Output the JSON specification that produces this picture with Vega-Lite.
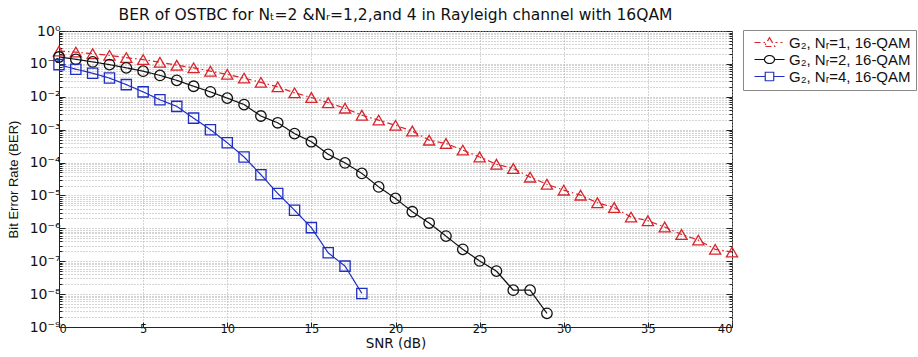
{
  "$schema": "https://vega.github.io/schema/vega-lite/v6.json",
  "autosize": "none",
  "width": 673,
  "height": 296,
  "padding": {"left": 59, "top": 31, "right": 186, "bottom": 30},
  "background": "white",
  "title": {"text": "BER of OSTBC for Nₜ=2 &Nᵣ=1,2,and 4 in Rayleigh channel with 16QAM", "font": "DejaVu Sans", "fontSize": 15.5, "fontWeight": "normal", "color": "#111", "anchor": "middle", "offset": 1},
  "config": {
    "view": {"stroke": "#222", "strokeWidth": 1},
    "axis": {"labelFont": "DejaVu Sans", "labelFontSize": 12, "labelColor": "#111", "titleFont": "DejaVu Sans", "titleFontSize": 14, "titleFontWeight": "normal", "titleColor": "#111", "domainColor": "#222", "tickColor": "#222", "gridColor": "#aaa", "gridDash": [1, 2], "gridOpacity": 1}
  },
  "data": {"values": [
    {"snr":0,"ber":0.245,"series":"G₂, Nᵣ=1, 16-QAM"},{"snr":1,"ber":0.229,"series":"G₂, Nᵣ=1, 16-QAM"},{"snr":2,"ber":0.204,"series":"G₂, Nᵣ=1, 16-QAM"},{"snr":3,"ber":0.182,"series":"G₂, Nᵣ=1, 16-QAM"},{"snr":4,"ber":0.155,"series":"G₂, Nᵣ=1, 16-QAM"},{"snr":5,"ber":0.135,"series":"G₂, Nᵣ=1, 16-QAM"},{"snr":6,"ber":0.112,"series":"G₂, Nᵣ=1, 16-QAM"},{"snr":7,"ber":0.091,"series":"G₂, Nᵣ=1, 16-QAM"},{"snr":8,"ber":0.076,"series":"G₂, Nᵣ=1, 16-QAM"},{"snr":9,"ber":0.060,"series":"G₂, Nᵣ=1, 16-QAM"},{"snr":10,"ber":0.048,"series":"G₂, Nᵣ=1, 16-QAM"},{"snr":11,"ber":0.037,"series":"G₂, Nᵣ=1, 16-QAM"},{"snr":12,"ber":0.0275,"series":"G₂, Nᵣ=1, 16-QAM"},{"snr":13,"ber":0.020,"series":"G₂, Nᵣ=1, 16-QAM"},{"snr":14,"ber":0.0132,"series":"G₂, Nᵣ=1, 16-QAM"},{"snr":15,"ber":0.0095,"series":"G₂, Nᵣ=1, 16-QAM"},{"snr":16,"ber":0.0066,"series":"G₂, Nᵣ=1, 16-QAM"},{"snr":17,"ber":0.0045,"series":"G₂, Nᵣ=1, 16-QAM"},{"snr":18,"ber":0.00275,"series":"G₂, Nᵣ=1, 16-QAM"},{"snr":19,"ber":0.00195,"series":"G₂, Nᵣ=1, 16-QAM"},{"snr":20,"ber":0.00135,"series":"G₂, Nᵣ=1, 16-QAM"},{"snr":21,"ber":0.00091,"series":"G₂, Nᵣ=1, 16-QAM"},{"snr":22,"ber":0.00048,"series":"G₂, Nᵣ=1, 16-QAM"},{"snr":23,"ber":0.00038,"series":"G₂, Nᵣ=1, 16-QAM"},{"snr":24,"ber":0.00024,"series":"G₂, Nᵣ=1, 16-QAM"},{"snr":25,"ber":0.000148,"series":"G₂, Nᵣ=1, 16-QAM"},{"snr":26,"ber":0.000089,"series":"G₂, Nᵣ=1, 16-QAM"},{"snr":27,"ber":0.000066,"series":"G₂, Nᵣ=1, 16-QAM"},{"snr":28,"ber":0.000036,"series":"G₂, Nᵣ=1, 16-QAM"},{"snr":29,"ber":0.0000219,"series":"G₂, Nᵣ=1, 16-QAM"},{"snr":30,"ber":0.0000145,"series":"G₂, Nᵣ=1, 16-QAM"},{"snr":31,"ber":0.0000102,"series":"G₂, Nᵣ=1, 16-QAM"},{"snr":32,"ber":0.000006,"series":"G₂, Nᵣ=1, 16-QAM"},{"snr":33,"ber":0.0000043,"series":"G₂, Nᵣ=1, 16-QAM"},{"snr":34,"ber":0.0000022,"series":"G₂, Nᵣ=1, 16-QAM"},{"snr":35,"ber":0.0000017,"series":"G₂, Nᵣ=1, 16-QAM"},{"snr":36,"ber":0.0000011,"series":"G₂, Nᵣ=1, 16-QAM"},{"snr":37,"ber":6.5e-7,"series":"G₂, Nᵣ=1, 16-QAM"},{"snr":38,"ber":4.4e-7,"series":"G₂, Nᵣ=1, 16-QAM"},{"snr":39,"ber":2.3e-7,"series":"G₂, Nᵣ=1, 16-QAM"},{"snr":40,"ber":1.9e-7,"series":"G₂, Nᵣ=1, 16-QAM"},
    {"snr":0,"ber":0.162,"series":"G₂, Nᵣ=2, 16-QAM"},{"snr":1,"ber":0.138,"series":"G₂, Nᵣ=2, 16-QAM"},{"snr":2,"ber":0.115,"series":"G₂, Nᵣ=2, 16-QAM"},{"snr":3,"ber":0.095,"series":"G₂, Nᵣ=2, 16-QAM"},{"snr":4,"ber":0.076,"series":"G₂, Nᵣ=2, 16-QAM"},{"snr":5,"ber":0.060,"series":"G₂, Nᵣ=2, 16-QAM"},{"snr":6,"ber":0.0447,"series":"G₂, Nᵣ=2, 16-QAM"},{"snr":7,"ber":0.0316,"series":"G₂, Nᵣ=2, 16-QAM"},{"snr":8,"ber":0.0209,"series":"G₂, Nᵣ=2, 16-QAM"},{"snr":9,"ber":0.0141,"series":"G₂, Nᵣ=2, 16-QAM"},{"snr":10,"ber":0.0091,"series":"G₂, Nᵣ=2, 16-QAM"},{"snr":11,"ber":0.0058,"series":"G₂, Nᵣ=2, 16-QAM"},{"snr":12,"ber":0.0026,"series":"G₂, Nᵣ=2, 16-QAM"},{"snr":13,"ber":0.00162,"series":"G₂, Nᵣ=2, 16-QAM"},{"snr":14,"ber":0.00076,"series":"G₂, Nᵣ=2, 16-QAM"},{"snr":15,"ber":0.00043,"series":"G₂, Nᵣ=2, 16-QAM"},{"snr":16,"ber":0.000178,"series":"G₂, Nᵣ=2, 16-QAM"},{"snr":17,"ber":0.0000977,"series":"G₂, Nᵣ=2, 16-QAM"},{"snr":18,"ber":0.0000468,"series":"G₂, Nᵣ=2, 16-QAM"},{"snr":19,"ber":0.0000182,"series":"G₂, Nᵣ=2, 16-QAM"},{"snr":20,"ber":0.0000081,"series":"G₂, Nᵣ=2, 16-QAM"},{"snr":21,"ber":0.0000032,"series":"G₂, Nᵣ=2, 16-QAM"},{"snr":22,"ber":0.00000145,"series":"G₂, Nᵣ=2, 16-QAM"},{"snr":23,"ber":5.8e-7,"series":"G₂, Nᵣ=2, 16-QAM"},{"snr":24,"ber":2.3e-7,"series":"G₂, Nᵣ=2, 16-QAM"},{"snr":25,"ber":1.02e-7,"series":"G₂, Nᵣ=2, 16-QAM"},{"snr":26,"ber":5.0e-8,"series":"G₂, Nᵣ=2, 16-QAM"},{"snr":27,"ber":1.32e-8,"series":"G₂, Nᵣ=2, 16-QAM"},{"snr":28,"ber":1.32e-8,"series":"G₂, Nᵣ=2, 16-QAM"},{"snr":29,"ber":2.6e-9,"series":"G₂, Nᵣ=2, 16-QAM"},
    {"snr":0,"ber":0.095,"series":"G₂, Nᵣ=4, 16-QAM"},{"snr":1,"ber":0.069,"series":"G₂, Nᵣ=4, 16-QAM"},{"snr":2,"ber":0.052,"series":"G₂, Nᵣ=4, 16-QAM"},{"snr":3,"ber":0.037,"series":"G₂, Nᵣ=4, 16-QAM"},{"snr":4,"ber":0.0234,"series":"G₂, Nᵣ=4, 16-QAM"},{"snr":5,"ber":0.0141,"series":"G₂, Nᵣ=4, 16-QAM"},{"snr":6,"ber":0.0081,"series":"G₂, Nᵣ=4, 16-QAM"},{"snr":7,"ber":0.0051,"series":"G₂, Nᵣ=4, 16-QAM"},{"snr":8,"ber":0.00224,"series":"G₂, Nᵣ=4, 16-QAM"},{"snr":9,"ber":0.001,"series":"G₂, Nᵣ=4, 16-QAM"},{"snr":10,"ber":0.0004,"series":"G₂, Nᵣ=4, 16-QAM"},{"snr":11,"ber":0.000148,"series":"G₂, Nᵣ=4, 16-QAM"},{"snr":12,"ber":0.0000427,"series":"G₂, Nᵣ=4, 16-QAM"},{"snr":13,"ber":0.0000115,"series":"G₂, Nᵣ=4, 16-QAM"},{"snr":14,"ber":0.00000355,"series":"G₂, Nᵣ=4, 16-QAM"},{"snr":15,"ber":0.00000105,"series":"G₂, Nᵣ=4, 16-QAM"},{"snr":16,"ber":1.8e-7,"series":"G₂, Nᵣ=4, 16-QAM"},{"snr":17,"ber":7.1e-8,"series":"G₂, Nᵣ=4, 16-QAM"},{"snr":18,"ber":1.05e-8,"series":"G₂, Nᵣ=4, 16-QAM"}
  ]},
  "encoding": {
    "x": {"field": "snr", "type": "quantitative", "scale": {"domain": [0, 40], "nice": false},
      "axis": {"title": "SNR (dB)", "values": [0,5,10,15,20,25,30,35,40], "tickSize": -5, "labelPadding": 1, "titlePadding": 2, "titleFontSize": 13.5, "labelFontSize": 11.5, "grid": true, "domain": true}},
    "y": {"field": "ber", "type": "quantitative", "scale": {"type": "log", "domain": [1e-9, 1], "nice": false}, "axis": null},
    "color": {"field": "series", "type": "nominal",
      "scale": {"domain": ["G₂, Nᵣ=1, 16-QAM", "G₂, Nᵣ=2, 16-QAM", "G₂, Nᵣ=4, 16-QAM"], "range": ["#d9232b", "#111111", "#1f2fc4"]},
      "legend": {"title": null, "orient": "none", "legendX": 684, "legendY": -1, "padding": 5,
        "strokeColor": "#888", "fillColor": "white", "labelFont": "Liberation Sans", "labelFontSize": 15, "labelColor": "#111",
        "symbolSize": 100, "symbolStrokeWidth": 1.2, "symbolFillColor": "transparent", "symbolOffset": 14, "labelOffset": 12, "rowPadding": 1,
        "encode": {"symbols": {"update": {"fill": {"value": "transparent"}, "shape": {"signal": "datum.value === 'G₂, Nᵣ=1, 16-QAM' ? 'M-3,0H-0.55M1.2,0H1.6M2.2,0H2.6M0,-0.95L1.05,0.8L-1.05,0.8Z' : datum.value === 'G₂, Nᵣ=2, 16-QAM' ? 'M-3,0H-1M1,0H3M-1,0A1,0.8 0 1,0 1,0A1,0.8 0 1,0 -1,0' : 'M-3,0H-0.85M0.85,0H3M-0.85,-0.85H0.85V0.85H-0.85Z'"}}}}}
    }
  },
  "layer": [
    {
      "mark": {"type": "line", "strokeWidth": 1.2},
      "encoding": {
        "strokeDash": {"field": "series", "type": "nominal", "legend": null,
          "scale": {"domain": ["G₂, Nᵣ=1, 16-QAM", "G₂, Nᵣ=2, 16-QAM", "G₂, Nᵣ=4, 16-QAM"], "range": [[6, 3, 1.5, 3], [1, 0], [1, 0]]}},
        "y": {"field": "ber", "type": "quantitative",
          "axis": {"title": "Bit Error Rate (BER)", "titlePadding": 9, "titleFont": "Liberation Sans", "titleFontSize": 13,
            "values": [1e-9,2e-9,3e-9,4e-9,5e-9,6e-9,7e-9,8e-9,9e-9,1e-8,2e-8,3e-8,4e-8,5e-8,6e-8,7e-8,8e-8,9e-8,1e-7,2e-7,3e-7,4e-7,5e-7,6e-7,7e-7,8e-7,9e-7,1e-6,2e-6,3e-6,4e-6,5e-6,6e-6,7e-6,8e-6,9e-6,1e-5,2e-5,3e-5,4e-5,5e-5,6e-5,7e-5,8e-5,9e-5,1e-4,2e-4,3e-4,4e-4,5e-4,6e-4,7e-4,8e-4,9e-4,1e-3,2e-3,3e-3,4e-3,5e-3,6e-3,7e-3,8e-3,9e-3,1e-2,2e-2,3e-2,4e-2,5e-2,6e-2,7e-2,8e-2,9e-2,0.1,0.2,0.3,0.4,0.5,0.6,0.7,0.8,0.9,1],
            "labelExpr": "abs(log(datum.value)/LN10 - round(log(datum.value)/LN10)) < 0.001 ? ['10⁻⁹','10⁻⁸','10⁻⁷','10⁻⁶','10⁻⁵','10⁻⁴','10⁻³','10⁻²','10⁻¹','10⁰'][round(log(datum.value)/LN10)+9] : ''",
            "labelFontSize": 14,
            "tickSize": {"condition": {"test": "abs(log(datum.value)/LN10 - round(log(datum.value)/LN10)) < 0.001", "value": -6}, "value": -3},
            "labelPadding": 5, "labelFlush": false, "labelOverlap": false, "grid": true}}
      }
    },
    {
      "transform": [{"filter": "datum.series === 'G₂, Nᵣ=1, 16-QAM'"}],
      "mark": {"type": "point", "shape": "triangle-up", "filled": false, "strokeWidth": 1.3, "opacity": 1, "size": 125}
    },
    {
      "transform": [{"filter": "datum.series === 'G₂, Nᵣ=2, 16-QAM'"}],
      "mark": {"type": "point", "shape": "circle", "filled": false, "strokeWidth": 1.3, "opacity": 1, "size": 110}
    },
    {
      "transform": [{"filter": "datum.series === 'G₂, Nᵣ=4, 16-QAM'"}],
      "mark": {"type": "point", "shape": "square", "filled": false, "strokeWidth": 1.3, "opacity": 1, "size": 105},
      "encoding": {
        "y": {"field": "ber", "type": "quantitative",
          "axis": {"orient": "right", "title": null, "labels": false, "domain": false, "grid": false,
            "values": [1e-9,2e-9,3e-9,4e-9,5e-9,6e-9,7e-9,8e-9,9e-9,1e-8,2e-8,3e-8,4e-8,5e-8,6e-8,7e-8,8e-8,9e-8,1e-7,2e-7,3e-7,4e-7,5e-7,6e-7,7e-7,8e-7,9e-7,1e-6,2e-6,3e-6,4e-6,5e-6,6e-6,7e-6,8e-6,9e-6,1e-5,2e-5,3e-5,4e-5,5e-5,6e-5,7e-5,8e-5,9e-5,1e-4,2e-4,3e-4,4e-4,5e-4,6e-4,7e-4,8e-4,9e-4,1e-3,2e-3,3e-3,4e-3,5e-3,6e-3,7e-3,8e-3,9e-3,1e-2,2e-2,3e-2,4e-2,5e-2,6e-2,7e-2,8e-2,9e-2,0.1,0.2,0.3,0.4,0.5,0.6,0.7,0.8,0.9,1],
            "tickSize": {"condition": {"test": "abs(log(datum.value)/LN10 - round(log(datum.value)/LN10)) < 0.001", "value": -6}, "value": -3}}}
      }
    }
  ],
  "resolve": {"axis": {"y": "independent"}}
}
